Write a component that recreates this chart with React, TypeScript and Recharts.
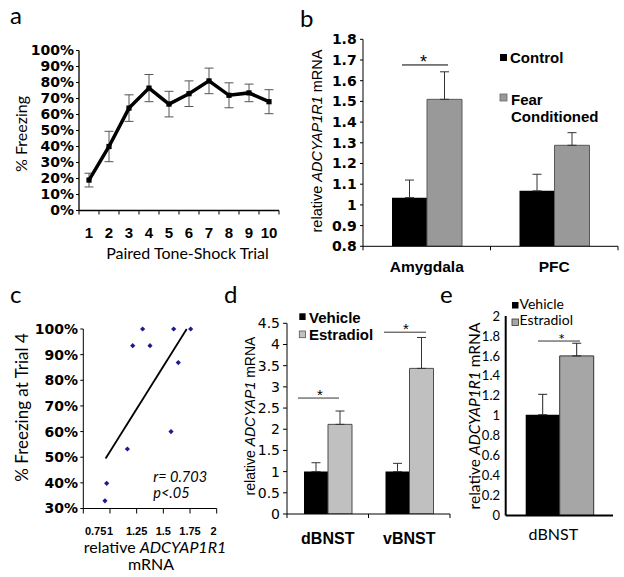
import React from 'react';
import {
  LineChart, Line, BarChart, Bar, ScatterChart, Scatter, XAxis, YAxis,
  ErrorBar, ReferenceLine,
} from 'recharts';

const W = 624;
const H = 577;
const ARIAL = '"Liberation Sans", Arial, sans-serif';
const CAL = 'Lato, "Open Sans", sans-serif';
const VER = '"DejaVu Sans", Verdana, sans-serif';

// ---------------- Panel a : freezing across trials ----------------
const trialNumbers = [1, 2, 3, 4, 5, 6, 7, 8, 9, 10];
const freezingMean = [0.19, 0.40, 0.64, 0.765, 0.665, 0.73, 0.81, 0.72, 0.735, 0.68];
const freezingSem = [0.043, 0.095, 0.083, 0.085, 0.08, 0.08, 0.08, 0.078, 0.055, 0.075];
const pctTicksA = [0, 0.1, 0.2, 0.3, 0.4, 0.5, 0.6, 0.7, 0.8, 0.9, 1];

// ---------------- Panel b : amygdala / PFC ----------------
const regionsB = ['Amygdala', 'PFC'];
const controlB = [1.035, 1.068];
const controlSemB = [0.085, 0.08];
const fearB = [1.51, 1.288];
const fearSemB = [0.133, 0.061];
const ticksB = [0.8, 0.9, 1, 1.1, 1.2, 1.3, 1.4, 1.5, 1.6, 1.7, 1.8];
const sigB = [{ x1: 0.306, x2: 0.667, y: 1.676, sx: 0.475, sy: 1.712 }];

// ---------------- Panel c : correlation ----------------
const mrnaC = [0.953, 0.969, 1.163, 1.213, 1.306, 1.375, 1.572, 1.597, 1.64, 1.756];
const freezeC = [0.33, 0.398, 0.532, 0.935, 1.0, 0.935, 0.6, 1.0, 0.869, 1.0];
const trendC = [{ x: 0.959, y: 0.495 }, { x: 1.719, y: 1.0 }];
const ticksCX = [0.75, 1, 1.25, 1.5, 1.75, 2];
const ticksCY = [0.3, 0.4, 0.5, 0.6, 0.7, 0.8, 0.9, 1];
const statsC = ['r= 0.703', 'p<.05'];

// ---------------- Panel d : BNST ADCYAP1 ----------------
const regionsD = ['dBNST', 'vBNST'];
const vehicleD = [1.0, 1.0];
const vehicleSemD = [0.21, 0.195];
const estradiolD = [2.115, 3.436];
const estradiolSemD = [0.315, 0.73];
const ticksD = [0, 0.5, 1, 1.5, 2, 2.5, 3, 3.5, 4, 4.5];
const sigD = [
  { x1: 0.135, x2: 0.638, y: 2.736, sx: 0.405, sy: 2.884 },
  { x1: 1.19, x2: 1.706, y: 4.29, sx: 1.46, sy: 4.458 },
];

// ---------------- Panel e : dBNST ADCYAP1R1 ----------------
const regionsE = ['dBNST'];
const vehicleE = [1.01];
const vehicleSemE = [0.205];
const estradiolE = [1.6];
const estradiolSemE = [0.127];
const ticksE = [0, 0.2, 0.4, 0.6, 0.8, 1, 1.2, 1.4, 1.6, 1.8, 2];
const sigE = [{ x1: 0.301, x2: 0.692, y: 1.749, sx: 0.521, sy: 1.80 }];

const legendB = ['Control', 'Fear', 'Conditioned'];
const legendDE = ['Vehicle', 'Estradiol'];

// ---------------- layout helpers ----------------
type Rect = { l: number; r: number; t: number; b: number };
const PLOT_A: Rect = { l: 79, r: 279, t: 50.5, b: 210.5 };
const PLOT_B: Rect = { l: 363, r: 618, t: 39.3, b: 246.3 };
const PLOT_C: Rect = { l: 83.3, r: 216.7, t: 329, b: 508.5 };
const PLOT_D: Rect = { l: 287, r: 450, t: 323.3, b: 514 };
const PLOT_E: Rect = { l: 505.7, r: 613, t: 316, b: 515.5 };

const margins = (p: Rect, yw: number, xh: number) => ({
  left: p.l - yw, right: W - p.r, top: p.t, bottom: H - p.b - xh,
});

const fmtPct = (v: number) => `${Math.round(v * 100)}%`;
const fmtNum = (v: number) => String(Math.round(v * 100) / 100);

type TickOpts = {
  band: number; count: number; mark: number; base: number;
  font: string; size: number; weight?: number; dxs?: number[];
};
const catTick = (o: TickOpts) => (p: any) => {
  const { x, y, payload, index } = p;
  const half = o.band / 2;
  const dx = o.dxs ? o.dxs[index] || 0 : 0;
  return (
    <g>
      {o.mark > 0 && <line x1={x - half} y1={y} x2={x - half} y2={y + o.mark} stroke="#000" strokeWidth={1} />}
      {o.mark > 0 && index === o.count - 1 && (
        <line x1={x + half} y1={y} x2={x + half} y2={y + o.mark} stroke="#000" strokeWidth={1} />
      )}
      <text x={x + dx} y={y + o.base} textAnchor="middle" fontFamily={o.font} fontSize={o.size}
        fontWeight={o.weight ?? 400} fill="#000">{payload.value}</text>
    </g>
  );
};

const cTick = (p: any) => {
  const { x, y, payload, index } = p;
  const last = ticksCX.length - 1;
  const anchor = index === 0 ? 'end' : index === last ? 'end' : 'middle';
  const dx = index === 0 ? 23 : 0;
  return (
    <text x={x + dx} y={y + 21} textAnchor={anchor} fontFamily={ARIAL} fontSize={11} fontWeight={700} fill="#000">
      {String(payload.value)}
    </text>
  );
};

const starShape = (font: string, size: number, shift: number) => (p: any) => (
  <text x={p.cx} y={p.cy + shift} textAnchor="middle" fontFamily={font} fontSize={size} fill="#000">*</text>
);
const noShape = () => <g />;
const diamond = (p: any) => (
  <polygon points={`${p.cx},${p.cy - 2.6} ${p.cx + 2.6},${p.cy} ${p.cx},${p.cy + 2.6} ${p.cx - 2.6},${p.cy}`} fill="#1c1c90" />
);
const squareDot = (p: any) => (
  <rect key={p.index} x={p.cx - 2.6} y={p.cy - 2.6} width={5.2} height={5.2} fill="#000" />
);

type Part = { t: string; i?: boolean };
const Rich = ({ parts, ...rest }: any) => (
  <text {...rest} style={{ whiteSpace: 'pre' }}>
    {parts.map((p: Part, k: number) => (
      <tspan key={k} fontStyle={p.i ? 'italic' : 'normal'}>{p.t}</tspan>
    ))}
  </text>
);
const VTitle = ({ x, y, parts, font, size }: any) => (
  <Rich parts={parts} transform={`translate(${x},${y}) rotate(-90)`} textAnchor="middle"
    fontFamily={font} fontSize={size} fill="#000" />
);

const titleR1: Part[] = [{ t: 'relative ' }, { t: 'ADCYAP1R1', i: true }, { t: ' mRNA' }];
const titleP1: Part[] = [{ t: 'relative ' }, { t: 'ADCYAP1', i: true }, { t: ' mRNA' }];

const full: React.CSSProperties = { position: 'absolute', left: 0, top: 0 };

type Sig = { x1: number; x2: number; y: number; sx: number; sy: number };
// Transparent overlay chart sharing a bar panel's plot area, with a numeric x scale
// spanning the categories, used for significance bars and asterisks.
function SigOverlay({ plot, nCat, yDomain, sigs, stroke, font, size, shift }: {
  plot: Rect; nCat: number; yDomain: [number, number]; sigs: Sig[]; stroke: string; font: string; size: number; shift: number;
}) {
  return (
    <div style={full}>
      <ScatterChart width={W} height={H} margin={margins(plot, 0, 0)}>
        <XAxis type="number" dataKey="x" domain={[0, nCat]} hide allowDataOverflow />
        <YAxis type="number" dataKey="y" domain={yDomain} hide allowDataOverflow />
        {sigs.map((s, i) => (
          <Scatter key={`l${i}`} data={[{ x: s.x1, y: s.y }, { x: s.x2, y: s.y }]} line={{ stroke, strokeWidth: 1 }}
            lineType="joint" shape={noShape} isAnimationActive={false} />
        ))}
        {sigs.map((s, i) => (
          <Scatter key={`s${i}`} data={[{ x: s.sx, y: s.sy }]} shape={starShape(font, size, shift)} isAnimationActive={false} />
        ))}
      </ScatterChart>
    </div>
  );
}

export default function App() {
  const dataA = trialNumbers.map((t, i) => ({ trial: t, mean: freezingMean[i], sem: freezingSem[i] }));
  const dataB = regionsB.map((r, i) => ({
    region: r, control: controlB[i], controlErr: [0, controlSemB[i]], fear: fearB[i], fearErr: [0, fearSemB[i]],
  }));
  const dataC = mrnaC.map((x, i) => ({ x, y: freezeC[i] }));
  const dataD = regionsD.map((r, i) => ({
    region: r, vehicle: vehicleD[i], vehicleErr: [0, vehicleSemD[i]], estradiol: estradiolD[i], estradiolErr: [0, estradiolSemD[i]],
  }));
  const dataE = regionsE.map((r, i) => ({
    region: r, vehicle: vehicleE[i], vehicleErr: [0, vehicleSemE[i]], estradiol: estradiolE[i], estradiolErr: [0, estradiolSemE[i]],
  }));

  const axisBlack = { stroke: '#000', strokeWidth: 1 };

  return (
    <div style={{ position: 'absolute', left: 0, top: 0, width: W, height: H, background: '#fff', overflow: 'hidden' }}>
      {/* Panel a */}
      <div style={full}>
        <LineChart width={W} height={H} data={dataA} margin={margins(PLOT_A, 50, 45)}>
          <XAxis type="number" dataKey="trial" domain={[0.5, 10.5]} ticks={trialNumbers} interval={0}
            tickSize={0} tickMargin={0} tickLine={false} axisLine={{ stroke: '#000', strokeWidth: 1.3 }} height={45}
            tick={catTick({ band: (PLOT_A.r - PLOT_A.l) / 10, count: 10, mark: 4, base: 27.5, font: ARIAL, size: 15, weight: 700 })} />
          <YAxis type="number" domain={[0, 1]} ticks={pctTicksA} interval={0} tickFormatter={fmtPct} width={50}
            tickSize={3} tickMargin={2} axisLine={{ stroke: '#000', strokeWidth: 1.3 }} tickLine={axisBlack}
            tick={{ fontFamily: VER, fontWeight: 700, fontSize: 14, fill: '#000' }} />
          <Line dataKey="mean" stroke="#000" strokeWidth={3.5} dot={squareDot} isAnimationActive={false}>
            <ErrorBar dataKey="sem" width={4.5} stroke="#555" strokeWidth={1} direction="y" />
          </Line>
        </LineChart>
      </div>

      {/* Panel b */}
      <div style={full}>
        <BarChart width={W} height={H} data={dataB} margin={margins(PLOT_B, 50, 45)} barCategoryGap={29} barGap={0}>
          <XAxis dataKey="region" interval={0} tickSize={0} tickMargin={0} tickLine={false} axisLine={axisBlack} height={45}
            tick={catTick({ band: (PLOT_B.r - PLOT_B.l) / 2, count: 2, mark: 4, base: 25.7, font: ARIAL, size: 15.5, weight: 700 })} />
          <YAxis type="number" domain={[0.8, 1.8]} ticks={ticksB} interval={0} tickFormatter={fmtNum} width={50}
            allowDataOverflow tickSize={3} tickMargin={3.3} axisLine={axisBlack} tickLine={axisBlack}
            tick={{ fontFamily: VER, fontWeight: 700, fontSize: 14, fill: '#000' }} />
          <Bar dataKey="control" fill="#000" isAnimationActive={false}>
            <ErrorBar dataKey="controlErr" width={4.5} stroke="#333" strokeWidth={1} direction="y" />
          </Bar>
          <Bar dataKey="fear" fill="#999999" stroke="#5a5a5a" strokeWidth={1} isAnimationActive={false}>
            <ErrorBar dataKey="fearErr" width={4.5} stroke="#333" strokeWidth={1} direction="y" />
          </Bar>
        </BarChart>
      </div>
      <SigOverlay plot={PLOT_B} nCat={2} yDomain={[0.8, 1.8]} sigs={sigB} stroke="#000" font={ARIAL} size={18} shift={10.4} />

      {/* Panel c */}
      <div style={full}>
        <ScatterChart width={W} height={H} margin={margins(PLOT_C, 50, 40)}>
          <XAxis type="number" dataKey="x" domain={[0.75, 2]} ticks={ticksCX} interval={0} height={40}
            tickSize={5} tickMargin={0} axisLine={axisBlack} tickLine={axisBlack} tick={cTick} />
          <YAxis type="number" dataKey="y" domain={[0.3, 1]} ticks={ticksCY} interval={0} tickFormatter={fmtPct} width={50}
            tickSize={3} tickMargin={2.3} axisLine={axisBlack} tickLine={axisBlack}
            tick={{ fontFamily: VER, fontWeight: 700, fontSize: 14, fill: '#000' }} />
          <Scatter data={dataC} fill="#1c1c90" shape={diamond} isAnimationActive={false} />
          <ReferenceLine segment={trendC} stroke="#000" strokeWidth={1.8} />
        </ScatterChart>
      </div>

      {/* Panel d */}
      <div style={full}>
        <BarChart width={W} height={H} data={dataD} margin={margins(PLOT_D, 50, 40)} barCategoryGap={17} barGap={0}>
          <XAxis dataKey="region" interval={0} tickSize={0} tickMargin={0} tickLine={false} axisLine={axisBlack} height={40}
            tick={catTick({ band: (PLOT_D.r - PLOT_D.l) / 2, count: 2, mark: 4, base: 30, font: ARIAL, size: 16, weight: 700 })} />
          <YAxis type="number" domain={[0, 4.5]} ticks={ticksD} interval={0} tickFormatter={fmtNum} width={50}
            allowDataOverflow tickSize={4} tickMargin={3} axisLine={axisBlack} tickLine={axisBlack}
            tick={{ fontFamily: VER, fontSize: 14, fill: '#000' }} />
          <Bar dataKey="vehicle" fill="#000" isAnimationActive={false}>
            <ErrorBar dataKey="vehicleErr" width={4.5} stroke="#333" strokeWidth={1} direction="y" />
          </Bar>
          <Bar dataKey="estradiol" fill="#c0c0c0" stroke="#4d4d4d" strokeWidth={1} isAnimationActive={false}>
            <ErrorBar dataKey="estradiolErr" width={4.5} stroke="#333" strokeWidth={1} direction="y" />
          </Bar>
        </BarChart>
      </div>
      <SigOverlay plot={PLOT_D} nCat={2} yDomain={[0, 4.5]} sigs={sigD} stroke="#333" font={ARIAL} size={15} shift={8.7} />

      {/* Panel e */}
      <div style={full}>
        <BarChart width={W} height={H} data={dataE} margin={margins(PLOT_E, 40, 40)} barCategoryGap={20} barGap={0}>
          <XAxis dataKey="region" interval={0} tickSize={0} tickMargin={0} tickLine={false}
            axisLine={{ stroke: '#000', strokeWidth: 2 }} height={40}
            tick={catTick({ band: PLOT_E.r - PLOT_E.l, count: 1, mark: 0, base: 24.5, font: CAL, size: 16, dxs: [-6] })} />
          <YAxis type="number" domain={[0, 2]} ticks={ticksE} interval={0} tickFormatter={fmtNum} width={40}
            allowDataOverflow tickSize={0} tickMargin={5.7} axisLine={{ stroke: '#000', strokeWidth: 2 }} tickLine={false}
            tick={{ fontFamily: CAL, fontSize: 13, fill: '#000' }} />
          <Bar dataKey="vehicle" fill="#000" isAnimationActive={false}>
            <ErrorBar dataKey="vehicleErr" width={4.5} stroke="#222" strokeWidth={1} direction="y" />
          </Bar>
          <Bar dataKey="estradiol" fill="#a6a6a6" stroke="#333" strokeWidth={1} isAnimationActive={false}>
            <ErrorBar dataKey="estradiolErr" width={4.5} stroke="#222" strokeWidth={1} direction="y" />
          </Bar>
        </BarChart>
      </div>
      <SigOverlay plot={PLOT_E} nCat={1} yDomain={[0, 2]} sigs={sigE} stroke="#333" font={CAL} size={16} shift={9.1} />

      {/* Text overlay: panel letters, titles, legends, stats */}
      <svg width={W} height={H} style={{ position: 'absolute', left: 0, top: 0, pointerEvents: 'none' }}>
        <g fontFamily={CAL} fontSize={24} fill="#000">
          <text x={10} y={24}>a</text>
          <text x={300} y={27}>b</text>
          <text x={10} y={303}>c</text>
          <text x={224} y={303}>d</text>
          <text x={440} y={303}>e</text>
        </g>

        {/* axis titles */}
        <VTitle x={26.5} y={134} parts={[{ t: '% Freezing' }]} font={CAL} size={16} />
        <text x={187.5} y={259} textAnchor="middle" fontFamily={CAL} fontSize={16} fill="#000">Paired Tone-Shock Trial</text>
        <VTitle x={322} y={141} parts={titleR1} font={ARIAL} size={14.5} />
        <VTitle x={27.5} y={407.5} parts={[{ t: '% Freezing at Trial 4' }]} font={CAL} size={17} />
        <Rich parts={[{ t: 'relative ' }, { t: 'ADCYAP1R1', i: true }]} x={155} y={553} textAnchor="middle"
          fontFamily={CAL} fontSize={16} fill="#000" />
        <text x={151} y={569.5} textAnchor="middle" fontFamily={CAL} fontSize={16} fill="#000">mRNA</text>
        <VTitle x={255} y={416} parts={titleP1} font={ARIAL} size={14} />
        <VTitle x={480} y={416} parts={titleR1} font={CAL} size={15.5} />

        {/* legend b */}
        <rect x={500} y={54} width={7} height={7} fill="#000" />
        <text x={510} y={63.3} fontFamily={ARIAL} fontWeight={700} fontSize={15} fill="#000">{legendB[0]}</text>
        <rect x={500} y={94} width={7} height={7} fill="#999999" stroke="#666" strokeWidth={0.8} />
        <text x={511} y={105} fontFamily={ARIAL} fontWeight={700} fontSize={15} fill="#000">{legendB[1]}</text>
        <text x={511} y={121.7} fontFamily={ARIAL} fontWeight={700} fontSize={15} fill="#000">{legendB[2]}</text>

        {/* legend d */}
        <rect x={299.3} y={313.3} width={6.3} height={6.7} fill="#000" />
        <text x={309} y={322.7} fontFamily={ARIAL} fontWeight={700} fontSize={15} fill="#000">{legendDE[0]}</text>
        <rect x={299.3} y={331} width={6.3} height={6.7} fill="#c0c0c0" stroke="#555" strokeWidth={0.8} />
        <text x={309} y={340} fontFamily={ARIAL} fontWeight={700} fontSize={15} fill="#000">{legendDE[1]}</text>

        {/* legend e */}
        <rect x={512} y={302} width={6.5} height={6.5} fill="#000" />
        <text x={519.5} y={308.5} fontFamily={CAL} fontSize={14} fill="#000">{legendDE[0]}</text>
        <rect x={512} y={319} width={6.5} height={6.5} fill="#a6a6a6" stroke="#333" strokeWidth={0.8} />
        <text x={519.5} y={325.2} fontFamily={CAL} fontSize={14} fill="#000">{legendDE[1]}</text>

        {/* stats c */}
        <text x={153.3} y={481.7} fontFamily={CAL} fontStyle="italic" fontSize={14.5} fill="#000">{statsC[0]}</text>
        <text x={153.3} y={497.7} fontFamily={CAL} fontStyle="italic" fontSize={14.5} fill="#000">{statsC[1]}</text>
      </svg>
    </div>
  );
}
